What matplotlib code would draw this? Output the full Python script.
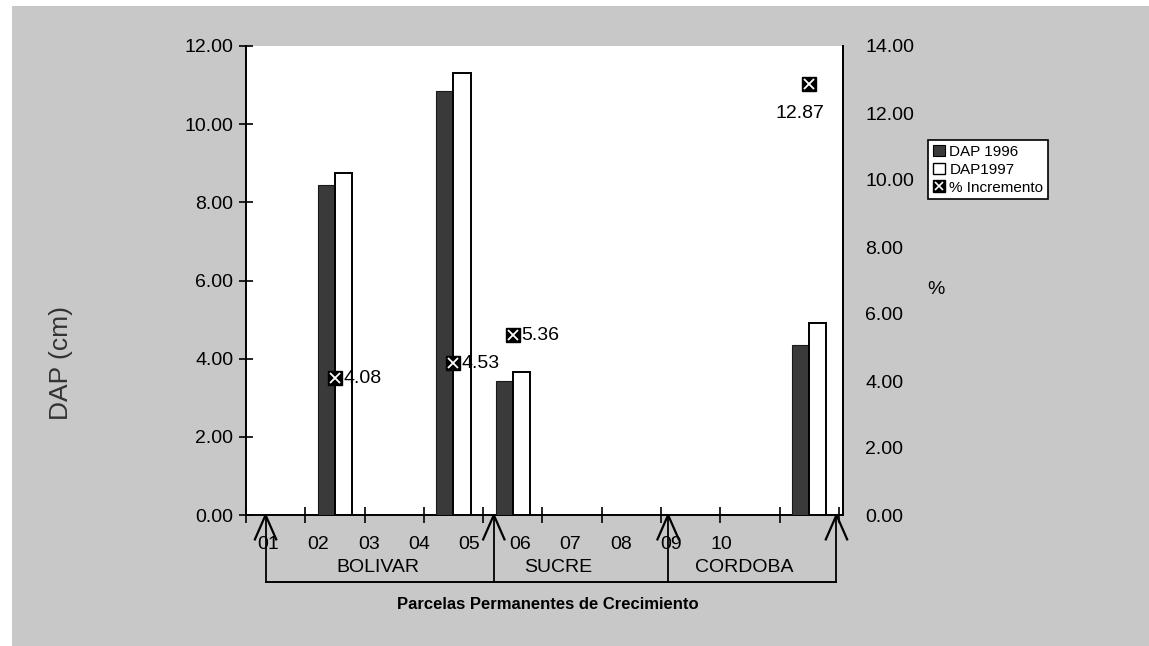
import numpy as np
import matplotlib
matplotlib.use("Agg")
import matplotlib.pyplot as plt
from matplotlib.patches import Patch, Rectangle
from matplotlib.lines import Line2D

plt.rcParams['font.family'] = ['Liberation Sans', 'DejaVu Sans']

# Parcelas permanentes de crecimiento
parcelas = ['01', '02', '03', '04', '05', '06', '07', '08', '09', '10']
dap_1996 = [0, 8.44, 0, 10.85, 3.43, 0, 0, 0, 0, 4.36]
dap_1997 = [0, 8.75, 0, 11.30, 3.65, 0, 0, 0, 0, 4.92]
incremento = [None, 4.08, None, 4.53, 5.36, None, None, None, None, 12.87]
departamentos = ['BOLIVAR', 'SUCRE', 'CORDOBA']

x = np.arange(1, len(parcelas) + 1)
ancho = 0.29

fig = plt.figure(figsize=(11.49, 6.46), dpi=100)
fig.patch.set_facecolor('white')
# fondo gris de la lamina
fig.add_artist(Rectangle((12 / 1149, 0), 1 - 12 / 1149, 1 - 6 / 646,
                         transform=fig.transFigure, facecolor='#c8c8c8',
                         edgecolor='none', zorder=-10))

ax = fig.add_axes([246 / 1149, 131 / 646, 597 / 1149, 469 / 646])
ax.set_facecolor('white')

mask = [v > 0 for v in dap_1996]
xb = x[mask]
ax.bar(xb - ancho / 2, np.array(dap_1996)[mask], ancho, color='#3a3a3a',
       edgecolor='#1a1a1a', linewidth=0.8, zorder=3)
ax.bar(xb + ancho / 2, np.array(dap_1997)[mask], ancho, color='white',
       edgecolor='black', linewidth=1.4, zorder=3)

ax.set_xlim(0.53, 10.57)
ax.set_ylim(0, 12)
ax.set_yticks(np.arange(0, 12.1, 2))
ax.set_yticklabels([f'{v:.2f}' for v in np.arange(0, 12.1, 2)], fontsize=14)
ax.tick_params(axis='y', direction='inout', length=10, width=1.2, pad=4)
ax.set_xticks(np.arange(0.5, 10.6, 1))
ax.set_xticklabels([])
ax.tick_params(axis='x', direction='inout', length=11, width=1.2)
ax.spines['top'].set_visible(False)
ax.spines['left'].set_linewidth(1.4)
ax.spines['bottom'].set_linewidth(1.4)
ax.spines['right'].set_linewidth(1.4)
ax.set_ylabel('DAP (cm)', fontsize=19, color='#333333')
ax.yaxis.set_label_coords(-0.29, 0.325)

# eje derecho: porcentaje de incremento
ax2 = ax.twinx()
ax2.set_ylim(0, 14)
ax2.set_yticks(np.arange(0, 14.1, 2))
ax2.set_yticklabels([f'{v:.2f}' for v in np.arange(0, 14.1, 2)], fontsize=14)
ax2.tick_params(axis='y', length=0, pad=16)
for s in ['top', 'left', 'bottom']:
    ax2.spines[s].set_visible(False)
ax2.spines['right'].set_linewidth(1.4)
ax2.set_ylabel('%', fontsize=14, rotation=0)
ax2.yaxis.set_label_coords(1.155, 0.50)

for xi, v in zip(x, incremento):
    if v is None:
        continue
    ax2.plot(xi, v, marker='s', ms=10, color='black', zorder=5, clip_on=False)
    ax2.plot(xi, v, marker='x', ms=7, mew=1.3, color='white', zorder=6,
             clip_on=False)
    if v > 10:
        ax2.annotate(f'{v:.2f}', (xi, v), xytext=(-7, -21),
                     textcoords='offset points', ha='center', va='center',
                     fontsize=14)
    else:
        ax2.annotate(f'{v:.2f}', (xi, v), xytext=(6, 0),
                     textcoords='offset points', ha='left', va='center',
                     fontsize=14)

# etiquetas de parcelas y llaves de departamento bajo el eje
trans = ax.get_xaxis_transform()
pos_etiquetas = 0.87 + 0.85 * np.arange(len(parcelas))
for p, lab in zip(pos_etiquetas, parcelas):
    ax.text(p, -0.062, lab, transform=trans, ha='center', va='center',
            fontsize=14)

limites = [0.83, 4.68, 7.62, 10.46]
y_llave = -0.142
for xl in limites:
    ax.plot([xl, xl], [0, y_llave], transform=trans, color='black', lw=1.3,
            clip_on=False)
    ax.plot([xl - 0.18, xl, xl + 0.18], [-0.052, 0, -0.052], transform=trans,
            color='black', lw=1.6, clip_on=False)
ax.plot([limites[0], limites[-1]], [y_llave, y_llave], transform=trans,
        color='black', lw=1.4, clip_on=False)

pos_dep = [2.73, 5.76, 8.9]
for p, dep in zip(pos_dep, departamentos):
    ax.text(p, -0.111, dep, transform=trans, ha='center', va='center',
            fontsize=14)

ax.text(0.505, -0.19, 'Parcelas Permanentes de Crecimiento',
        transform=ax.transAxes, ha='center', va='center', fontsize=12,
        fontweight='bold')

# leyenda
h1 = Patch(facecolor='#3a3a3a', edgecolor='black', linewidth=0.8)
h2 = Patch(facecolor='white', edgecolor='black', linewidth=1.0)
h3a = Line2D([], [], marker='s', ms=9, color='black', ls='none')
h3b = Line2D([], [], marker='x', ms=6, mew=1.2, color='white', ls='none')
leg = fig.legend([h1, h2, (h3a, h3b)], ['DAP 1996', 'DAP1997', '% Incremento'],
                 loc='upper left', bbox_to_anchor=(928 / 1149, 1 - 140 / 646),
                 fontsize=11, frameon=True, fancybox=False,
                 handlelength=0.8, handleheight=0.8, handletextpad=0.3,
                 borderpad=0.3, labelspacing=0.25, borderaxespad=0)
leg.get_frame().set_edgecolor('black')
leg.get_frame().set_linewidth(1.2)
leg.get_frame().set_facecolor('white')
leg.get_frame().set_alpha(1)

fig.savefig('out.png', dpi=100)
